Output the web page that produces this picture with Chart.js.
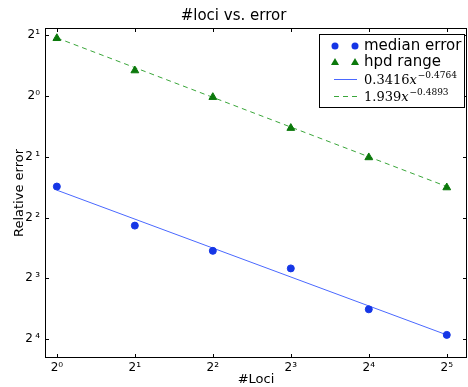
<!DOCTYPE html>
<html>
<head>
<meta charset="utf-8">
<script src="https://cdn.jsdelivr.net/npm/chart.js@4/dist/chart.umd.min.js"></script>
<style>
  html, body { margin: 0; padding: 0; background: #fff; }
  #wrap { width: 468px; height: 387px; }
</style>
</head>
<body>
<div id="wrap"><canvas id="chart" width="468" height="387"></canvas></div>
<script>
// data
const loci = [1, 2, 4, 8, 16, 32];
const medianError = [0.356, 0.228, 0.171, 0.140, 0.0878, 0.0656];
const hpdRange = [1.93, 1.336, 0.986, 0.693, 0.496, 0.352];
const fitX = [1, 32];
const medianFit = [0.3416, 0.0656];
const hpdFit = [1.939, 0.356];

const xTicks = [1, 2, 4, 8, 16, 32];
const xTickLabels = ['2\u2070', '2\u00b9', '2\u00b2', '2\u00b3', '2\u2074', '2\u2075'];
const yTicks = [2, 1, 0.5, 0.25, 0.125, 0.0625];
const yTickLabels = ['2\u00b9', '2\u2070', '2\u2009\u00b9', '2\u2009\u00b2', '2\u2009\u00b3', '2\u2009\u2074'];

const BLUE = '#1536e6';
const BLUE_LINE = '#4a68ff';
const GREEN = '#0b780b';
const GREEN_LINE = '#3aa63a';

const pts = (xs, ys) => xs.map((x, i) => ({ x: x, y: ys[i] }));

// frame + inward ticks like matplotlib
const framePlugin = {
    id: 'frame',
    afterDraw(chart) {
        const ctx = chart.ctx;
        const a = chart.chartArea;
        const xs = chart.scales.x, ys = chart.scales.y;
        ctx.save();
        ctx.strokeStyle = '#000';
        ctx.lineWidth = 1;
        ctx.strokeRect(Math.round(a.left) + 0.5, Math.round(a.top) + 0.5,
            Math.round(a.right - a.left) - 1, Math.round(a.bottom - a.top) - 1);
        ctx.beginPath();
        xTicks.forEach(v => {
            const px = Math.round(xs.getPixelForValue(v)) + 0.5;
            ctx.moveTo(px, a.bottom); ctx.lineTo(px, a.bottom - 4);
            ctx.moveTo(px, a.top); ctx.lineTo(px, a.top + 4);
        });
        yTicks.forEach(v => {
            const py = Math.round(ys.getPixelForValue(v)) + 0.5;
            ctx.moveTo(a.left, py); ctx.lineTo(a.left + 4, py);
            ctx.moveTo(a.right, py); ctx.lineTo(a.right - 4, py);
        });
        ctx.stroke();
        ctx.restore();
    }
};

function drawMath(ctx, x, y, coef, expo) {
    ctx.font = '13px "DejaVu Serif"';
    ctx.fillText(coef, x, y);
    x += ctx.measureText(coef).width;
    ctx.font = 'italic 13px "DejaVu Serif"';
    ctx.fillText('x', x, y);
    x += ctx.measureText('x').width + 1;
    ctx.font = '9px "DejaVu Serif"';
    ctx.fillText(expo, x, y - 6);
}

const legendPlugin = {
    id: 'boxLegend',
    afterDraw(chart) {
        const ctx = chart.ctx;
        const a = chart.chartArea;
        const left = a.right - 148, top = a.top + 6, w = 145, h = 73;
        ctx.save();
        ctx.fillStyle = '#fff';
        ctx.fillRect(left, top, w, h);
        ctx.strokeStyle = '#000';
        ctx.lineWidth = 1;
        ctx.strokeRect(Math.round(left) + 0.5, Math.round(top) + 0.5, w, h);

        const m1 = left + 16, m2 = left + 36, tx = left + 45;
        const r1 = top + 12, r2 = top + 28, r3 = top + 45, r4 = top + 62;

        ctx.fillStyle = BLUE;
        [m1, m2].forEach(mx => { ctx.beginPath(); ctx.arc(mx, r1, 3.5, 0, Math.PI * 2); ctx.fill(); });
        ctx.fillStyle = GREEN;
        [m1, m2].forEach(mx => {
            ctx.beginPath();
            ctx.moveTo(mx, r2 - 4); ctx.lineTo(mx + 4, r2 + 3); ctx.lineTo(mx - 4, r2 + 3);
            ctx.closePath(); ctx.fill();
        });
        ctx.strokeStyle = BLUE_LINE;
        ctx.beginPath(); ctx.moveTo(m1 - 1, r3 + 0.5); ctx.lineTo(m2 + 2, r3 + 0.5); ctx.stroke();
        ctx.strokeStyle = GREEN_LINE;
        ctx.setLineDash([5, 4]);
        ctx.beginPath(); ctx.moveTo(m1 - 1, r4 + 0.5); ctx.lineTo(m2 + 2, r4 + 0.5); ctx.stroke();
        ctx.setLineDash([]);

        ctx.fillStyle = '#000';
        ctx.textBaseline = 'middle';
        ctx.font = '15px "DejaVu Sans"';
        ctx.fillText('median error', tx, r1);
        ctx.fillText('hpd range', tx, r2);
        ctx.textBaseline = 'alphabetic';
        drawMath(ctx, tx, r3 + 5, '0.3416', '\u22120.4764');
        drawMath(ctx, tx, r4 + 5, '1.939', '\u22120.4893');
        ctx.restore();
    }
};

const ctx = document.getElementById('chart').getContext('2d');
window.lociChart = new Chart(ctx, {
    type: 'scatter',
    data: {
        datasets: [
            {
                label: 'median error',
                data: pts(loci, medianError),
                backgroundColor: BLUE,
                borderColor: BLUE,
                pointRadius: 3.5,
                pointStyle: 'circle',
                order: 1
            },
            {
                label: 'hpd range',
                data: pts(loci, hpdRange),
                backgroundColor: GREEN,
                borderColor: GREEN,
                pointRadius: 4.5,
                pointStyle: 'triangle',
                order: 1
            },
            {
                label: '0.3416x^-0.4764',
                data: pts(fitX, medianFit),
                showLine: true,
                borderColor: BLUE_LINE,
                borderWidth: 1,
                pointRadius: 0,
                order: 2
            },
            {
                label: '1.939x^-0.4893',
                data: pts(fitX, hpdFit),
                showLine: true,
                borderColor: GREEN_LINE,
                borderWidth: 1,
                borderDash: [5, 4],
                pointRadius: 0,
                order: 2
            }
        ]
    },
    options: {
        responsive: false,
        animation: false,
        layout: { autoPadding: false, padding: { left: 0, right: 1, top: 0, bottom: 0 } },
        plugins: {
            legend: { display: false },
            tooltip: { enabled: false },
            title: {
                display: true,
                text: '#loci vs. error',
                color: '#000',
                font: { family: 'DejaVu Sans', size: 15, weight: 'normal' },
                padding: { top: 7, bottom: 3 }
            }
        },
        scales: {
            x: {
                type: 'logarithmic',
                min: 0.9,
                max: 38.3,
                afterBuildTicks: s => { s.ticks = xTicks.map(v => ({ value: v })); },
                afterFit: s => { s.height = 29; s.paddingLeft = 0; s.paddingRight = 0; },
                grid: { display: false, drawTicks: false },
                border: { display: false },
                ticks: {
                    color: '#000',
                    font: { family: 'DejaVu Sans', size: 12 },
                    padding: 3,
                    maxRotation: 0,
                    autoSkip: false,
                    callback: (v, i) => xTickLabels[i]
                },
                title: {
                    display: true,
                    text: '#Loci',
                    color: '#000',
                    font: { family: 'DejaVu Sans', size: 13 },
                    padding: { top: 0, bottom: 0 }
                }
            },
            y: {
                type: 'logarithmic',
                min: 0.0504,
                max: 2.17,
                afterBuildTicks: s => { s.ticks = yTicks.slice().reverse().map(v => ({ value: v })); },
                afterFit: s => { s.width = 45; s.paddingTop = 0; s.paddingBottom = 0; },
                grid: { display: false, drawTicks: false },
                border: { display: false },
                ticks: {
                    color: '#000',
                    font: { family: 'DejaVu Sans', size: 12 },
                    padding: 5,
                    autoSkip: false,
                    callback: (v) => yTickLabels[yTicks.indexOf(v)]
                },
                title: {
                    display: true,
                    text: 'Relative error',
                    color: '#000',
                    font: { family: 'DejaVu Sans', size: 13 },
                    padding: { top: 12, bottom: 0 }
                }
            }
        }
    },
    plugins: [framePlugin, legendPlugin]
});
</script>
</body>
</html>
